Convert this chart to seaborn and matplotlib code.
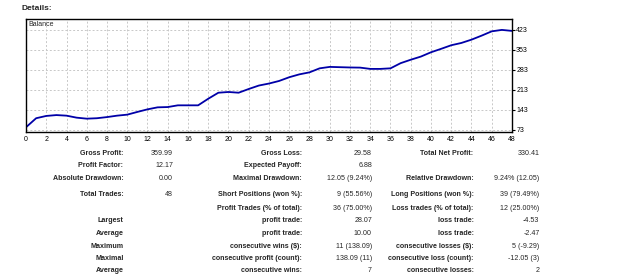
import numpy as np
import pandas as pd
import seaborn as sns
import matplotlib
matplotlib.use("Agg")
import matplotlib.pyplot as plt

# balance after each trade
trades = list(range(49))
balance = [82.5, 114, 122, 125, 123, 116, 112.5, 114, 118, 123,
           126.5, 136, 145, 152, 153, 159, 159, 159, 182, 203,
           205.5, 203, 216, 228, 235, 244, 257, 267, 274, 288,
           293, 292, 291, 290.5, 286, 286, 288, 306, 318, 329,
           344, 356, 368.5, 376.5, 388, 402, 417, 422, 418.5]
yticks = [73, 143, 213, 283, 353, 423]

# report table: (label, value) for three column pairs
col1 = [("Gross Profit:", "359.99"), ("Profit Factor:", "12.17"),
        ("Absolute Drawdown:", "0.00"), ("Total Trades:", "48"),
        ("", ""), ("Largest", ""), ("Average", ""), ("Maximum", ""),
        ("Maximal", ""), ("Average", "")]
col2 = [("Gross Loss:", "29.58"), ("Expected Payoff:", "6.88"),
        ("Maximal Drawdown:", "12.05 (9.24%)"),
        ("Short Positions (won %):", "9 (55.56%)"),
        ("Profit Trades (% of total):", "36 (75.00%)"),
        ("profit trade:", "28.07"), ("profit trade:", "10.00"),
        ("consecutive wins ($):", "11 (138.09)"),
        ("consecutive profit (count):", "138.09 (11)"),
        ("consecutive wins:", "7")]
col3 = [("Total Net Profit:", "330.41"), ("", ""),
        ("Relative Drawdown:", "9.24% (12.05)"),
        ("Long Positions (won %):", "39 (79.49%)"),
        ("Loss trades (% of total):", "12 (25.00%)"),
        ("loss trade:", "-4.53"), ("loss trade:", "-2.47"),
        ("consecutive losses ($):", "5 (-9.29)"),
        ("consecutive loss (count):", "-12.05 (3)"),
        ("consecutive losses:", "2")]
row_y = [153.3, 165.5, 178, 195, 208.3, 221, 233.5, 246.5, 258.5, 271]

sns.set_style("white")
plt.rcParams['font.family'] = ['Liberation Sans', 'DejaVu Sans']

W, H = 625, 278
fig = plt.figure(figsize=(W / 100, H / 100), dpi=100)
ax = fig.add_axes([26 / W, 1 - 132 / H, 486 / W, 113 / H])

df = pd.DataFrame({"trade": trades, "balance": balance})
sns.lineplot(data=df, x="trade", y="balance", ax=ax, color="#0000a8", lw=1.3)

ax.set_xlim(0, 48)
ax.set_ylim(66, 460)
ax.set_xticks(range(0, 49, 2))
ax.set_yticks(yticks)
ax.yaxis.tick_right()
ax.tick_params(labelsize=5, length=2, pad=1, colors="black")
ax.set_xlabel("")
ax.set_ylabel("")
ax.grid(True, ls=(0, (2, 2)), color="#c8c8c8", lw=0.7)
for s in ax.spines.values():
    s.set_color("black")
    s.set_linewidth(1)
ax.text(0.004, 0.985, "Balance", transform=ax.transAxes, fontsize=5,
        va="top", ha="left")

fig.text(22 / W, 1 - 9 / H, "Details:", fontsize=6, weight="bold",
         va="center", ha="left")

cols = [(col1, 123.5, 173), (col2, 302, 372), (col3, 473.5, 539.5)]
for rows, lx, vx in cols:
    for (lab, val), y in zip(rows, row_y):
        fig.text(lx / W, 1 - y / H, lab, fontsize=5.1, weight="bold",
                 ha="right", va="center")
        fig.text(vx / W, 1 - y / H, val, fontsize=5.1, ha="right",
                 va="center")

fig.savefig("out.png", dpi=100)
